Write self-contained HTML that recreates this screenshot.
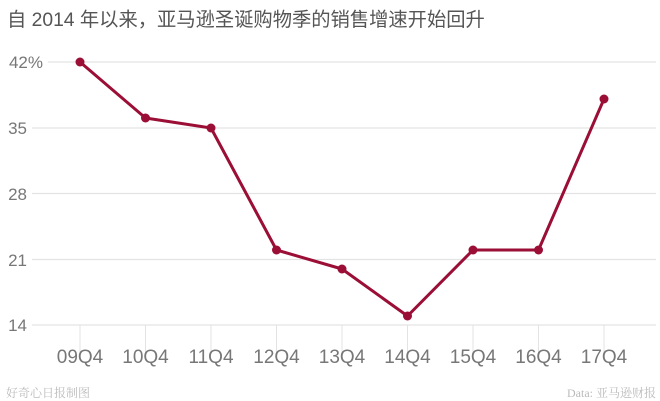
<!DOCTYPE html>
<html><head><meta charset="utf-8"><style>
html,body{margin:0;padding:0;background:#fff;}
svg{display:block;}
</style></head><body>
<svg width="660" height="401" viewBox="0 0 660 401" xmlns="http://www.w3.org/2000/svg">
<text x="7" y="26" font-family="'Liberation Sans','Noto Sans CJK SC',sans-serif" font-size="19.3" fill="#555">自 2014 年以来，亚马逊圣诞购物季的销售增速开始回升</text>
<g stroke="#e3e3e3" stroke-width="1.2">
<line x1="48" y1="62" x2="656" y2="62"/>
<line x1="32" y1="128" x2="656" y2="128"/>
<line x1="32" y1="193.5" x2="656" y2="193.5"/>
<line x1="32" y1="259.5" x2="656" y2="259.5"/>
<line x1="32" y1="325" x2="656" y2="325"/>
</g>
<g stroke="#e3e3e3" stroke-width="1">
<line x1="80" y1="325" x2="80" y2="353"/><line x1="145.5" y1="325" x2="145.5" y2="353"/><line x1="211" y1="325" x2="211" y2="353"/><line x1="276.5" y1="325" x2="276.5" y2="353"/><line x1="342" y1="325" x2="342" y2="353"/><line x1="407.5" y1="325" x2="407.5" y2="353"/><line x1="473" y1="325" x2="473" y2="353"/><line x1="538.5" y1="325" x2="538.5" y2="353"/><line x1="604" y1="325" x2="604" y2="353"/>
</g>
<g font-family="'Liberation Sans',sans-serif" font-size="17" fill="#777" text-anchor="end">
<text x="43" y="68">42%</text>
<text x="27" y="134">35</text>
<text x="27" y="200">28</text>
<text x="27" y="266">21</text>
<text x="27" y="331">14</text>
</g>
<g font-family="'Liberation Sans',sans-serif" font-size="19" fill="#777" text-anchor="middle">
<text x="80" y="363">09Q4</text><text x="145.5" y="363">10Q4</text><text x="211" y="363">11Q4</text><text x="276.5" y="363">12Q4</text><text x="342" y="363">13Q4</text><text x="407.5" y="363">14Q4</text><text x="473" y="363">15Q4</text><text x="538.5" y="363">16Q4</text><text x="604" y="363">17Q4</text>
</g>
<polyline fill="none" stroke="#9b0e35" stroke-width="3" stroke-linejoin="round" points="80,62 145.5,118 211,128 276.5,250 342,269 407.5,316 473,250 538.5,250 604,99"/>
<g fill="#9b0e35">
<circle cx="80" cy="62" r="4.5"/><circle cx="145.5" cy="118" r="4.5"/><circle cx="211" cy="128" r="4.5"/><circle cx="276.5" cy="250" r="4.5"/><circle cx="342" cy="269" r="4.5"/><circle cx="407.5" cy="316" r="4.5"/><circle cx="473" cy="250" r="4.5"/><circle cx="538.5" cy="250" r="4.5"/><circle cx="604" cy="99" r="4.5"/>
</g>
<text x="6" y="397" font-family="'Liberation Serif','Noto Serif CJK SC',serif" font-size="12" fill="#bbb">好奇心日报制图</text>
<text x="656" y="397" text-anchor="end" font-family="'Liberation Serif','Noto Serif CJK SC',serif" font-size="12" fill="#bbb">Data: 亚马逊财报</text>
</svg>
</body></html>
